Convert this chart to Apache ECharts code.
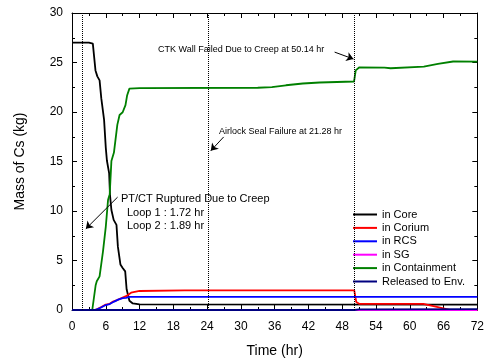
<!DOCTYPE html>
<html>
<head>
<meta charset="utf-8">
<script src="https://cdn.jsdelivr.net/npm/echarts@6/dist/echarts.min.js"></script>
<style>
  html, body { margin: 0; padding: 0; background: #fff; }
  #chart { width: 487px; height: 363px; }
</style>
</head>
<body>
<div id="chart"></div>
<script>
// mass of Cs in each location, [time (hr), mass (kg)]
const inCore = [
  [0, 27], [3.0, 27.0], [3.7, 26.9], [4.17, 24.2], [4.5, 23.6], [4.9, 23.2],
  [5.2, 21.4], [5.7, 19.2], [6.0, 16.4], [6.2, 15.1], [6.6, 13.8], [6.75, 11.6],
  [7.0, 10.1], [7.4, 9.1], [7.9, 8.6], [8.15, 6.4], [8.6, 4.6], [9.0, 4.25],
  [9.45, 3.9], [9.7, 2.1], [10.2, 0.93], [10.8, 0.66], [12, 0.57], [72, 0.55]
];
const inCorium = [
  [0, 0], [4.0, 0], [4.5, 0.1], [5.2, 0.3], [6.0, 0.55], [6.7, 0.62], [7.3, 0.85],
  [8.0, 1.0], [8.6, 1.15], [9.6, 1.4], [10.5, 1.75], [12, 1.92], [20, 1.98],
  [50.14, 1.98], [50.5, 0.8], [51, 0.62], [62.4, 0.62], [65, 0.3], [67.1, 0.02], [72, 0]
];
const inRCS = [
  [0, 0], [4.05, 0], [5.0, 0.2], [6.0, 0.5], [6.7, 0.6], [7.5, 0.85], [8.2, 1.05],
  [9.0, 1.2], [9.6, 1.22], [10.2, 1.32], [72, 1.32]
];
const inSG = [[0, 0], [72, 0]];
const inContainment = [
  [0, 0], [3.6, 0], [4.2, 2.5], [4.4, 2.9], [4.9, 3.4], [5.5, 5.9], [6.0, 8.4],
  [6.4, 11.1], [6.7, 11.7], [6.85, 13.4], [7.0, 15.05], [7.45, 15.9], [7.75, 16.05],
  [8.05, 18.7], [8.45, 19.7], [9.0, 19.97], [9.5, 20.7], [9.8, 21.7], [10.2, 22.36],
  [12, 22.42], [33, 22.45], [35.5, 22.52], [38, 22.7], [41, 22.88], [44, 22.98],
  [50.1, 23.08], [50.4, 24.2], [51.0, 24.5], [55.5, 24.48], [56.6, 24.42],
  [62.5, 24.58], [65, 24.85], [67.7, 25.1], [72, 25.08]
];
const releasedToEnv = [[0, 0], [50.14, 0], [51, 0.06], [72, 0.08]];

const seriesNames = ["in Core", "in Corium", "in RCS", "in SG", "in Containment", "Released to Env."];
const seriesColors = ["#000000", "#ff0000", "#0000ff", "#ff00ff", "#008000", "#000080"];
const seriesData = [inCore, inCorium, inRCS, inSG, inContainment, releasedToEnv];

// event times (hr) drawn as dotted verticals
const eventTimes = [1.8, 24.2, 50.14];

const FONT = "'Liberation Sans', Arial, sans-serif";

const chart = echarts.init(document.getElementById("chart"), null, { renderer: "canvas" });

const axisCommon = {
  type: "value",
  axisLine: { show: true, onZero: false, lineStyle: { color: "#000", width: 1 } },
  axisTick: { show: true, inside: true, length: 5, lineStyle: { color: "#000" } },
  minorTick: { show: true, splitNumber: 2, length: 3, lineStyle: { color: "#000" } },
  splitLine: { show: false },
  axisLabel: { color: "#000", fontSize: 12, fontFamily: FONT },
};

const series = seriesData.map((data, i) => ({
  name: seriesNames[i],
  type: "line",
  data: data,
  showSymbol: false,
  symbol: "none",
  lineStyle: { color: seriesColors[i], width: 1.8 },
  itemStyle: { color: seriesColors[i] },
  animation: false,
}));

// dotted event lines
series.push({
  name: "events",
  type: "line",
  data: [],
  animation: false,
  markLine: {
    silent: true,
    symbol: "none",
    label: { show: false },
    lineStyle: { color: "#000", type: "dotted", width: 1 },
    data: eventTimes.map((t) => ({ xAxis: t })),
  },
});

// annotation arrows
series.push({
  name: "arrows",
  type: "line",
  data: [],
  animation: false,
  markLine: {
    silent: true,
    symbol: ["none", "arrow"],
    symbolSize: 7,
    label: { show: false },
    lineStyle: { color: "#000", type: "solid", width: 1 },
    data: [
      [{ coord: [46.65, 26.05] }, { coord: [50.0, 25.35] }],
      [{ coord: [26.94, 17.48] }, { coord: [24.65, 16.08] }],
      [{ coord: [8.1, 11.4] }, { coord: [2.46, 8.2] }],
    ],
  },
});

const textItem = (x, y, text, size) => ({
  type: "text",
  x: x,
  y: y,
  style: { text: text, fill: "#000", fontSize: size, fontFamily: FONT, verticalAlign: "middle" },
});

const option = {
  backgroundColor: "#fff",
  animation: false,
  grid: { left: 72, right: 6, top: 13, bottom: 49, containLabel: false },
  xAxis: [
    Object.assign({}, axisCommon, {
      min: 0, max: 72, interval: 6, position: "bottom",
      axisLabel: Object.assign({}, axisCommon.axisLabel, { margin: 11 }),
      name: "Time (hr)", nameLocation: "middle", nameGap: 34,
      nameTextStyle: { color: "#000", fontSize: 14, fontFamily: FONT },
    }),
    Object.assign({}, axisCommon, {
      min: 0, max: 72, interval: 6, position: "top",
      axisLabel: { show: false },
    }),
  ],
  yAxis: [
    Object.assign({}, axisCommon, {
      min: 0, max: 30, interval: 5, position: "left",
      axisLabel: Object.assign({}, axisCommon.axisLabel, { margin: 9 }),
      name: "Mass of Cs (kg)", nameLocation: "middle", nameGap: 45,
      nameTextStyle: { color: "#000", fontSize: 14, fontFamily: FONT },
    }),
    Object.assign({}, axisCommon, {
      min: 0, max: 30, interval: 5, position: "right",
      axisLabel: { show: false },
    }),
  ],
  legend: {
    data: seriesNames,
    orient: "vertical",
    left: 348,
    top: 203,
    itemWidth: 24,
    itemHeight: 2,
    itemGap: 0.4,
    icon: "rect",
    textStyle: { color: "#000", fontSize: 11, fontFamily: FONT, lineHeight: 13 },
  },
  graphic: [
    textItem(158, 50, "CTK Wall Failed Due to Creep at 50.14 hr", 9),
    textItem(219, 132, "Airlock Seal Failure at 21.28 hr", 9),
    textItem(121, 199, "PT/CT Ruptured Due to Creep", 11),
    textItem(127, 213, "Loop 1 : 1.72 hr", 11),
    textItem(127, 226, "Loop 2 : 1.89 hr", 11),
  ],
  series: series,
};

chart.setOption(option);
</script>
</body>
</html>
